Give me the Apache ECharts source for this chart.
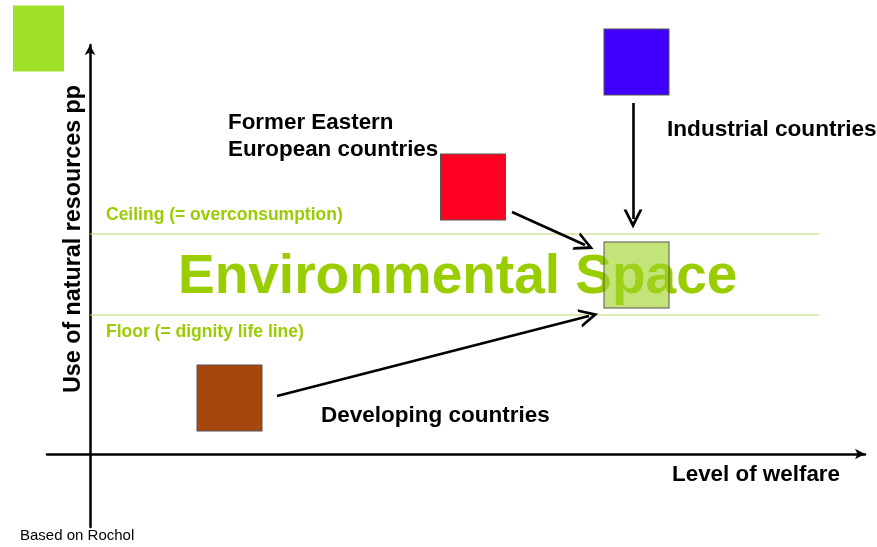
<!DOCTYPE html>
<html>
<head>
<meta charset="utf-8">
<script src="https://cdn.jsdelivr.net/npm/echarts@6/dist/echarts.min.js"></script>
<style>html,body{margin:0;padding:0;background:#fff;}#c{width:877px;height:547px;}</style>
</head>
<body>
<div id="c"></div>
<script>
// Conceptual positions (arbitrary units: welfare on x, use of resources on y)
const groups = ['Industrial countries', 'Former Eastern European countries', 'Developing countries', 'Environmental Space', 'Slide mark'];
const welfare = [54.65, 38.3, 13.95, 54.65, -5.15];
const resources = [39.2, 26.7, 5.6, 17.9, 41.55];
const boxColors = ['#4000ff', '#ff0022', '#a8460f', 'rgba(160,212,40,0.62)', '#a0e02a'];

const ceilingLevel = 22.0;
const floorLevel = 13.9;
const bandStart = 0;
const bandEnd = 72.9;

const arrowFrom = [[54.3, 35.1], [42.2, 24.2], [18.7, 5.8]];
const arrowTo = [[54.3, 23.5], [49.5, 20.9], [49.9, 13.8]];

const FONT = "'Liberation Sans', Arial, Helvetica, sans-serif";
const GREEN = '#9acd00';
const chevron = 'path://M0,14 L9,0 L18,14 L15.2,14 L9,4.6 L2.8,14 Z';

const chart = echarts.init(document.getElementById('c'));

const boxData = groups.map((g, i) => ({
  name: g,
  value: [welfare[i], resources[i]],
  symbolSize: i === 4 ? [51, 66] : [65, 66],
  itemStyle: {
    color: boxColors[i],
    opacity: 1,
    borderColor: i === 4 ? 'rgba(0,0,0,0)' : '#555',
    borderWidth: i === 4 ? 0 : 1
  }
}));

const arrowData = arrowFrom.map((f, i) => ({ coords: [f, arrowTo[i]] }));

chart.setOption({
  animation: false,
  backgroundColor: '#fff',
  grid: { left: 47, right: 12, top: 45, bottom: 20, containLabel: false },
  xAxis: {
    type: 'value', min: -4.3, max: 77.5,
    axisLine: { onZero: true, symbol: ['none', 'arrow'], symbolSize: [8, 10], lineStyle: { color: '#000', width: 2.5 } },
    axisTick: { show: false }, axisLabel: { show: false }, splitLine: { show: false }
  },
  yAxis: {
    type: 'value', min: -7.3, max: 40.9,
    axisLine: { onZero: true, symbol: ['none', 'arrow'], symbolSize: [8, 10], lineStyle: { color: '#000', width: 2.5 } },
    axisTick: { show: false }, axisLabel: { show: false }, splitLine: { show: false }
  },
  series: [
    {
      type: 'line', name: 'Ceiling', z: 1, symbol: 'none', silent: true,
      data: [[bandStart, ceilingLevel], [bandEnd, ceilingLevel]],
      lineStyle: { color: '#b5dc6a', width: 1.2 }
    },
    {
      type: 'line', name: 'Floor', z: 1, symbol: 'none', silent: true,
      data: [[bandStart, floorLevel], [bandEnd, floorLevel]],
      lineStyle: { color: '#b5dc6a', width: 1.2 }
    },
    {
      type: 'lines', coordinateSystem: 'cartesian2d', z: 3, silent: true,
      symbol: ['none', chevron], symbolSize: [24, 19],
      lineStyle: { color: '#000', width: 2.6, opacity: 1 },
      data: arrowData
    },
    {
      type: 'scatter', symbol: 'rect', z: 10, clip: false, silent: true,
      itemStyle: { opacity: 1 },
      data: boxData
    }
  ],
  graphic: [
    { type: 'text', z: 0, zlevel: 0, x: 74, y: 239, rotation: Math.PI / 2,
      style: { text: 'Use of natural resources pp', font: 'bold 23.3px ' + FONT, fill: '#000', align: 'center', verticalAlign: 'middle' } },
    { type: 'text', z: 0, x: 106, y: 215,
      style: { text: 'Ceiling (= overconsumption)', font: 'bold 17.5px ' + FONT, fill: GREEN, align: 'left', verticalAlign: 'middle' } },
    { type: 'text', z: 0, x: 106, y: 332,
      style: { text: 'Floor (= dignity life line)', font: 'bold 17.5px ' + FONT, fill: GREEN, align: 'left', verticalAlign: 'middle' } },
    { type: 'text', z: 0, x: 178, y: 278,
      style: { text: 'Environmental Space', font: 'bold 55px ' + FONT, fill: GREEN, align: 'left', verticalAlign: 'middle' } },
    { type: 'text', z: 0, x: 228, y: 123,
      style: { text: 'Former Eastern', font: 'bold 22.4px ' + FONT, fill: '#000', align: 'left', verticalAlign: 'middle' } },
    { type: 'text', z: 0, x: 228, y: 150,
      style: { text: 'European countries', font: 'bold 22.4px ' + FONT, fill: '#000', align: 'left', verticalAlign: 'middle' } },
    { type: 'text', z: 0, x: 667, y: 130,
      style: { text: 'Industrial countries', font: 'bold 22.6px ' + FONT, fill: '#000', align: 'left', verticalAlign: 'middle' } },
    { type: 'text', z: 0, x: 321, y: 416,
      style: { text: 'Developing countries', font: 'bold 22.5px ' + FONT, fill: '#000', align: 'left', verticalAlign: 'middle' } },
    { type: 'text', z: 0, x: 672, y: 475,
      style: { text: 'Level of welfare', font: 'bold 22.4px ' + FONT, fill: '#000', align: 'left', verticalAlign: 'middle' } },
    { type: 'text', z: 0, x: 20, y: 536,
      style: { text: 'Based on Rochol', font: '15px ' + FONT, fill: '#000', align: 'left', verticalAlign: 'middle' } }
  ]
});
</script>
</body>
</html>
